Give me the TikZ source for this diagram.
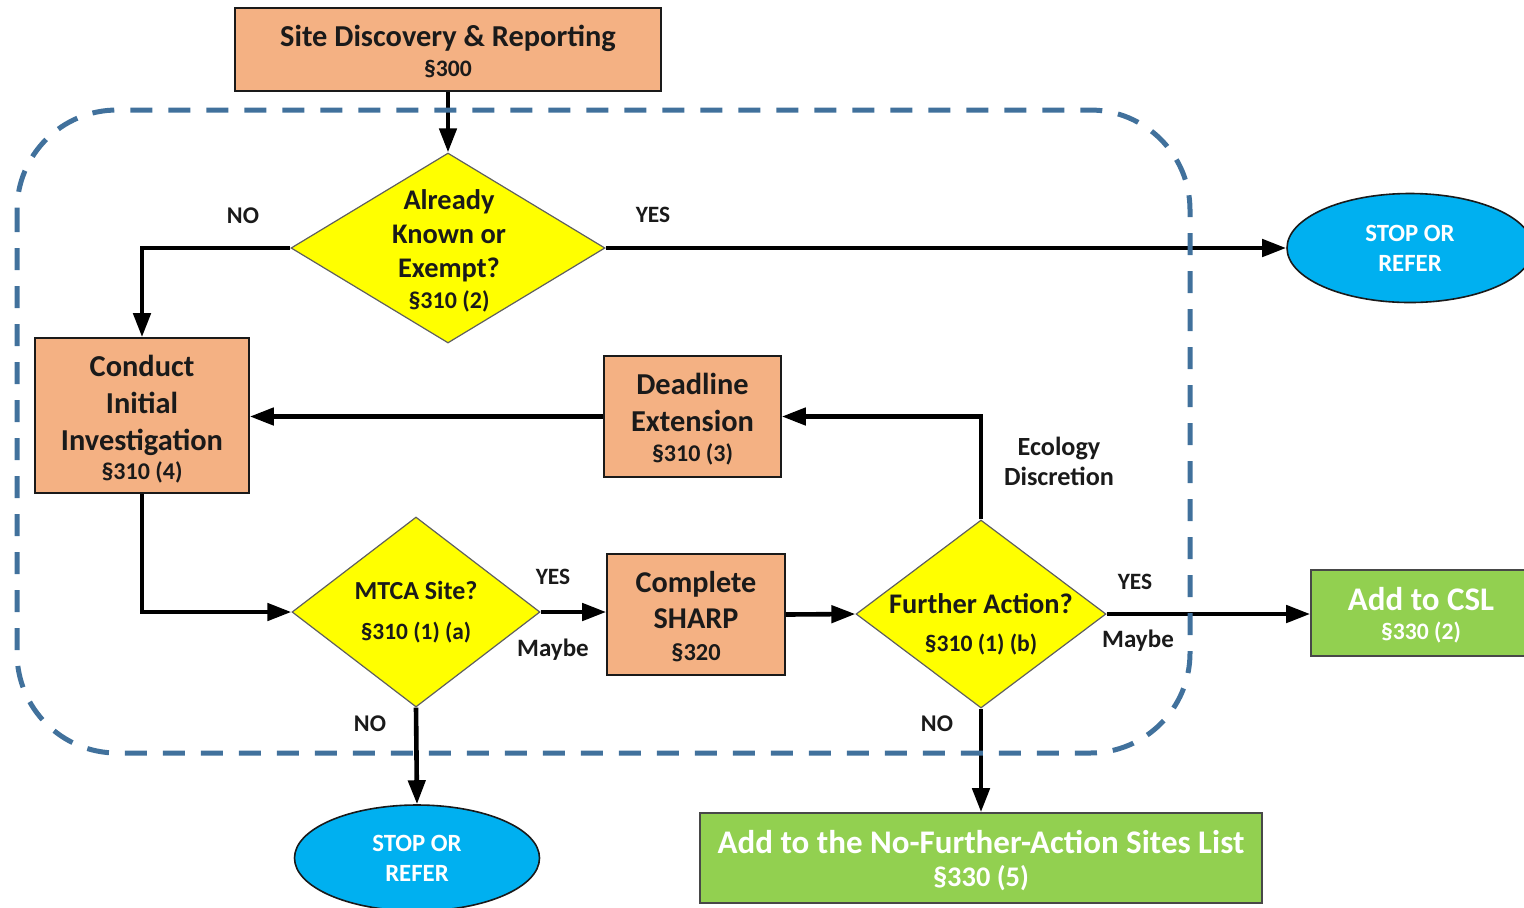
\documentclass[tikz,border=0pt]{standalone}
\usepackage{fontspec}
\setmainfont{Carlito}
\usetikzlibrary{shapes.geometric,arrows.meta}
\definecolor{boxorange}{HTML}{F4B183}
\definecolor{diayellow}{HTML}{FFFF00}
\definecolor{stopblue}{HTML}{00B0F0}
\definecolor{addgreen}{HTML}{92D050}
\definecolor{dashblue}{HTML}{41719C}
\definecolor{txt}{HTML}{1A1A1A}
\newcommand{\fs}[2]{\fontsize{#1}{#2}\selectfont}
\newcommand{\topstrut}[1]{\rule{0pt}{#1}}
\tikzset{
  every node/.style={text=txt},
  obox/.style={draw=txt, line width=0.8pt, fill=boxorange, inner sep=0pt, align=center},
  gbox/.style={draw=txt!80, line width=0.8pt, fill=addgreen, inner sep=0pt, align=center, text=white},
  dia/.style={diamond, draw=txt!70, line width=0.6pt, fill=diayellow, inner sep=0pt},
  stopell/.style={ellipse, draw=txt, line width=0.8pt, fill=stopblue, inner sep=0pt, align=center, text=white},
  diatext/.style={align=center, inner sep=0pt},
  lbl/.style={inner sep=0pt, align=center},
  arr/.style={line width=2.3pt, -{Triangle[length=12pt,width=8.5pt]}},
  dashbox/.style={draw=dashblue, line width=2.5pt, dash pattern=on 11pt off 8pt, rounded corners=50pt}
}
\begin{document}
\begin{tikzpicture}[x=0.5pt,y=-0.5pt]
\useasboundingbox (0,0) rectangle (1524,907);
\clip (0,0) rectangle (1524,907);

% nodes
\node[obox, minimum width=213pt, minimum height=41.5pt, font=\bfseries\fs{15.2}{16}] (top) at (448,49.5)
  {\topstrut{12.4pt}Site Discovery \& Reporting\\[-1pt]{\fs{11.8}{16}§300}};

\node[dia, minimum width=157pt, minimum height=95pt] (d1) at (448,248) {};
\node[diatext, font=\bfseries\fs{14.2}{17}] (d1t) at (449,251)
  {Already\\Known or\\Exempt?\\[-1.5pt]{\fs{12}{16}§310 (2)}};

\node[stopell, minimum width=123pt, minimum height=54.5pt, font=\bfseries\fs{12.4}{15}] (s1) at (1410,248)
  {STOP OR\\REFER};

\node[obox, minimum width=107pt, minimum height=77.5pt, font=\bfseries\fs{15.2}{18.5}] (ci) at (142,415.5)
  {\topstrut{14.4pt}Conduct\\Initial\\Investigation\\[-4pt]{\fs{12}{15}§310 (4)}};

\node[obox, minimum width=88.5pt, minimum height=60.5pt, font=\bfseries\fs{15.2}{18.5}] (de) at (692.5,416.5)
  {\topstrut{13.6pt}Deadline\\Extension\\[-3.5pt]{\fs{12}{16}§310 (3)}};

\node[dia, minimum width=124pt, minimum height=95pt] (d2) at (416,612) {};
\node[diatext, font=\bfseries\fs{13}{20}] (d2t) at (416,612.5)
  {MTCA Site?\\{\fs{11.7}{20}§310 (1) (a)}};

\node[obox, minimum width=89pt, minimum height=60.5pt, font=\bfseries\fs{15.1}{18}] (sh) at (696,614.5)
  {\topstrut{12.5pt}Complete\\SHARP\\[-2.3pt]{\fs{12.2}{16}§320}};

\node[dia, minimum width=125pt, minimum height=94pt] (d3) at (981,614) {};
\node[diatext, font=\bfseries\fs{14.2}{19}] (d3t) at (981,624.5)
  {Further Action?\\{\fs{11.8}{19}§310 (1) (b)}};

\node[gbox, minimum width=110pt, minimum height=43pt, font=\bfseries\fs{16.5}{16}] (csl) at (1421,613)
  {\topstrut{13.6pt}Add to CSL\\[-1.5pt]{\fs{11.8}{16}§330 (2)}};

\node[stopell, minimum width=122.5pt, minimum height=53pt, font=\bfseries\fs{12.4}{15}] (s2) at (417,858)
  {STOP OR\\REFER};

\node[gbox, minimum width=281pt, minimum height=45pt, font=\bfseries\fs{16.5}{17.5}] (nfa) at (981,858)
  {\topstrut{14.4pt}Add to the No-Further-Action Sites List\\[-1pt]{\fs{14.2}{17.5}§330 (5)}};

% labels
\node[lbl, font=\bfseries\fs{12}{14}] (lno1) at (243,216) {NO};
\node[lbl, font=\bfseries\fs{11.7}{14}] (lyes1) at (653,215) {YES};
\node[lbl, font=\bfseries\fs{13.1}{15}] (leco) at (1059,461) {Ecology\\Discretion};
\node[lbl, font=\bfseries\fs{11.7}{14}] (lyes2) at (553,577) {YES};
\node[lbl, font=\bfseries\fs{12.5}{14}] (lmay2) at (553,650) {Maybe};
\node[lbl, font=\bfseries\fs{12}{14}] (lno2) at (370,724) {NO};
\node[lbl, font=\bfseries\fs{11.7}{14}] (lyes3) at (1135,582) {YES};
\node[lbl, font=\bfseries\fs{12.5}{14}] (lmay3) at (1138,641) {Maybe};
\node[lbl, font=\bfseries\fs{12}{14}] (lno3) at (937,724) {NO};

% connectors
\draw[arr] (top.south) -- (d1.north);
\draw[arr] (d1.west) -| (ci.north);
\draw[arr] (d1.east) -- (s1.west);
\draw[arr] (de.west) -- (de.west -| ci.east);
\draw[arr] (d3.north) |- (de.east);
\draw[arr] (ci.south) |- (d2.west);
\draw[arr] (d2.east) -- (d2.east -| sh.west);
\draw[arr] (sh.east) -- (d3.west);
\draw[arr] (d3.east) -- (d3.east -| csl.west);
\draw[arr] (d2.south) -- (s2.north);
\draw[arr] (d3.south) -- (nfa.north);

% dashed boundary
\draw[dashbox] (17,110) rectangle (1190,753);
\end{tikzpicture}
\end{document}
